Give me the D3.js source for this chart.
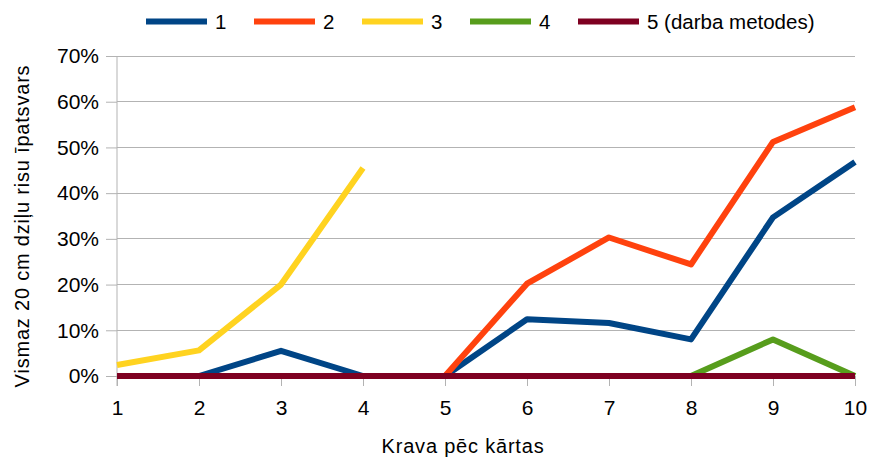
<!DOCTYPE html>
<html><head><meta charset="utf-8">
<script src="https://cdn.jsdelivr.net/npm/d3@7"></script>
<style>body{margin:0;background:#fff}svg{display:block}text{font-family:"Liberation Sans",Arial,sans-serif;fill:#000}</style>
</head><body><svg id="c" width="869" height="459"></svg>
<script>
const categories = [1,2,3,4,5,6,7,8,9,10];
const seriesNames = ["1","2","3","4","5 (darba metodes)"];
const s1 = [0, 0, 0.055, 0, 0, 0.124, 0.116, 0.080, 0.347, 0.468];
const s2 = [null, null, null, null, 0, 0.202, 0.303, 0.244, 0.512, 0.588];
const s3 = [0.024, 0.056, 0.200, 0.455, null, null, null, null, null, null];
const s4 = [null, null, null, null, null, null, null, 0, 0.080, 0];
const s5 = [0, 0, 0, 0, 0, 0, 0, 0, 0, 0];
const yTicks = [0,0.1,0.2,0.3,0.4,0.5,0.6,0.7];
const colors = ["#004586","#ff420e","#ffd320","#579d1c","#7e0021"];
const xTitle = "Krava pēc kārtas";
const yTitle = "Vismaz 20 cm dziļu risu īpatsvars";

const svg = d3.select("#c");
const L = 117, R = 855, T = 56, B = 376;
const x = d3.scaleLinear().domain([1,10]).range([L,R]);
const y = d3.scaleLinear().domain([0,0.7]).range([B,T]);

// gridlines
svg.append("g").selectAll("line").data(yTicks).join("line")
  .attr("x1",L).attr("x2",R).attr("y1",d=>y(d)).attr("y2",d=>y(d))
  .attr("stroke","#b3b3b3").attr("stroke-width",1).attr("shape-rendering","crispEdges");

// y axis
const ya = svg.append("g").attr("transform",`translate(${L},0)`)
  .call(d3.axisLeft(y).tickValues(yTicks).tickFormat(d3.format(".0%")).tickSize(11).tickPadding(7));
ya.select(".domain").attr("stroke","#b3b3b3").attr("d",`M0,${T}V${B+10}`);
ya.selectAll(".tick line").attr("stroke","#b3b3b3");
ya.selectAll(".tick text").attr("font-size",21).attr("fill","#000").attr("font-family","Liberation Sans, Arial, sans-serif");

// x axis
const xa = svg.append("g").attr("transform",`translate(0,${B})`)
  .call(d3.axisBottom(x).tickValues(categories).tickFormat(d3.format("d")).tickSize(10).tickPadding(14));
xa.select(".domain").remove();
xa.selectAll(".tick line").attr("stroke","#b3b3b3");
xa.selectAll(".tick text").attr("font-size",21).attr("fill","#000").attr("font-family","Liberation Sans, Arial, sans-serif");

// lines
const allSeries = [s1,s2,s3,s4,s5];
const line = d3.line().defined(d=>d[1]!==null).x(d=>x(d[0])).y(d=>y(d[1]));
allSeries.forEach((s,i)=>{
  svg.append("path").datum(categories.map((c,j)=>[c,s[j]]))
    .attr("d",line).attr("fill","none").attr("stroke",colors[i])
    .attr("stroke-width",6).attr("stroke-linejoin","round").attr("stroke-linecap","butt");
});

// legend
const legX = [146,254,362,470,578];
seriesNames.forEach((n,i)=>{
  svg.append("line").attr("x1",legX[i]).attr("x2",legX[i]+61).attr("y1",21.5).attr("y2",21.5)
    .attr("stroke",colors[i]).attr("stroke-width",6);
  svg.append("text").attr("x",legX[i]+69).attr("y",21.5).attr("dy","0.35em")
    .attr("font-size",20.5).text(n);
});

// titles
svg.append("text").attr("x",463).attr("y",446).attr("dy","0.35em").attr("text-anchor","middle")
  .attr("font-size",20).attr("letter-spacing","0.8px").text(xTitle);
svg.append("text").attr("transform",`translate(22,${226}) rotate(-90)`).attr("dy","0.35em")
  .attr("text-anchor","middle").attr("font-size",20).attr("letter-spacing","0.8px").text(yTitle);
</script></body></html>
